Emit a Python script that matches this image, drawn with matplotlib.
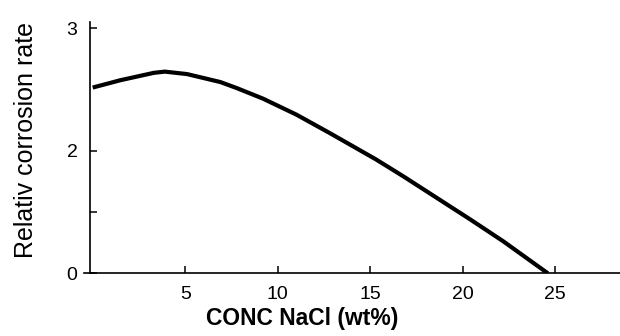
import matplotlib.pyplot as plt

# values
conc = [0.0, 1.5, 3.3, 3.9, 5.1, 6.9, 7.8, 9.2, 11.0, 12.8, 15.3, 16.8,
        18.6, 20.4, 22.2, 24.6]
rate = [3.03, 3.15, 3.27, 3.29, 3.25, 3.12, 3.02, 2.85, 2.59, 2.29, 1.86,
        1.58, 1.23, 0.88, 0.52, 0.0]

xticks = [5, 10, 15, 20, 25]
yticks = [0, 1, 2, 4]
ytick_labels = ['0', '', '2', '3']

plt.rcParams['font.family'] = ['Liberation Sans', 'DejaVu Sans']

fig = plt.figure(figsize=(6.2, 3.36), dpi=100)
ax = fig.add_axes([0.145, 0.1866, 0.855, 0.748])

ax.plot(conc, rate, color='black', lw=3.0, solid_capstyle='butt',
        solid_joinstyle='round')

ax.set_xlim(-0.15, 28.5)
ax.set_ylim(0, 4.1)

for s in ['top', 'right']:
    ax.spines[s].set_visible(False)
for s in ['left', 'bottom']:
    ax.spines[s].set_linewidth(1.2)

ax.set_xticks(xticks)
ax.set_yticks(yticks)
ax.set_yticklabels(ytick_labels)
ax.tick_params(direction='in', length=5, width=1.1, labelsize=14,
               colors='black')
ax.tick_params(axis='x', pad=9)
ax.tick_params(axis='y', pad=9)

# x axis line sticks out a little left of the y axis
ax.plot([-0.45, 0], [0, 0], color='black', lw=1.2, clip_on=False)

fig.text(302 / 620, 1 - 325 / 336, 'CONC NaCl (wt%)', ha='center',
         va='baseline', fontsize=16.5, fontweight='bold')
fig.text(33 / 620, 1 - 140 / 336, 'Relativ corrosion rate', ha='center',
         va='baseline', rotation=90, rotation_mode='anchor', fontsize=18)

fig.savefig('out.png', dpi=100)
